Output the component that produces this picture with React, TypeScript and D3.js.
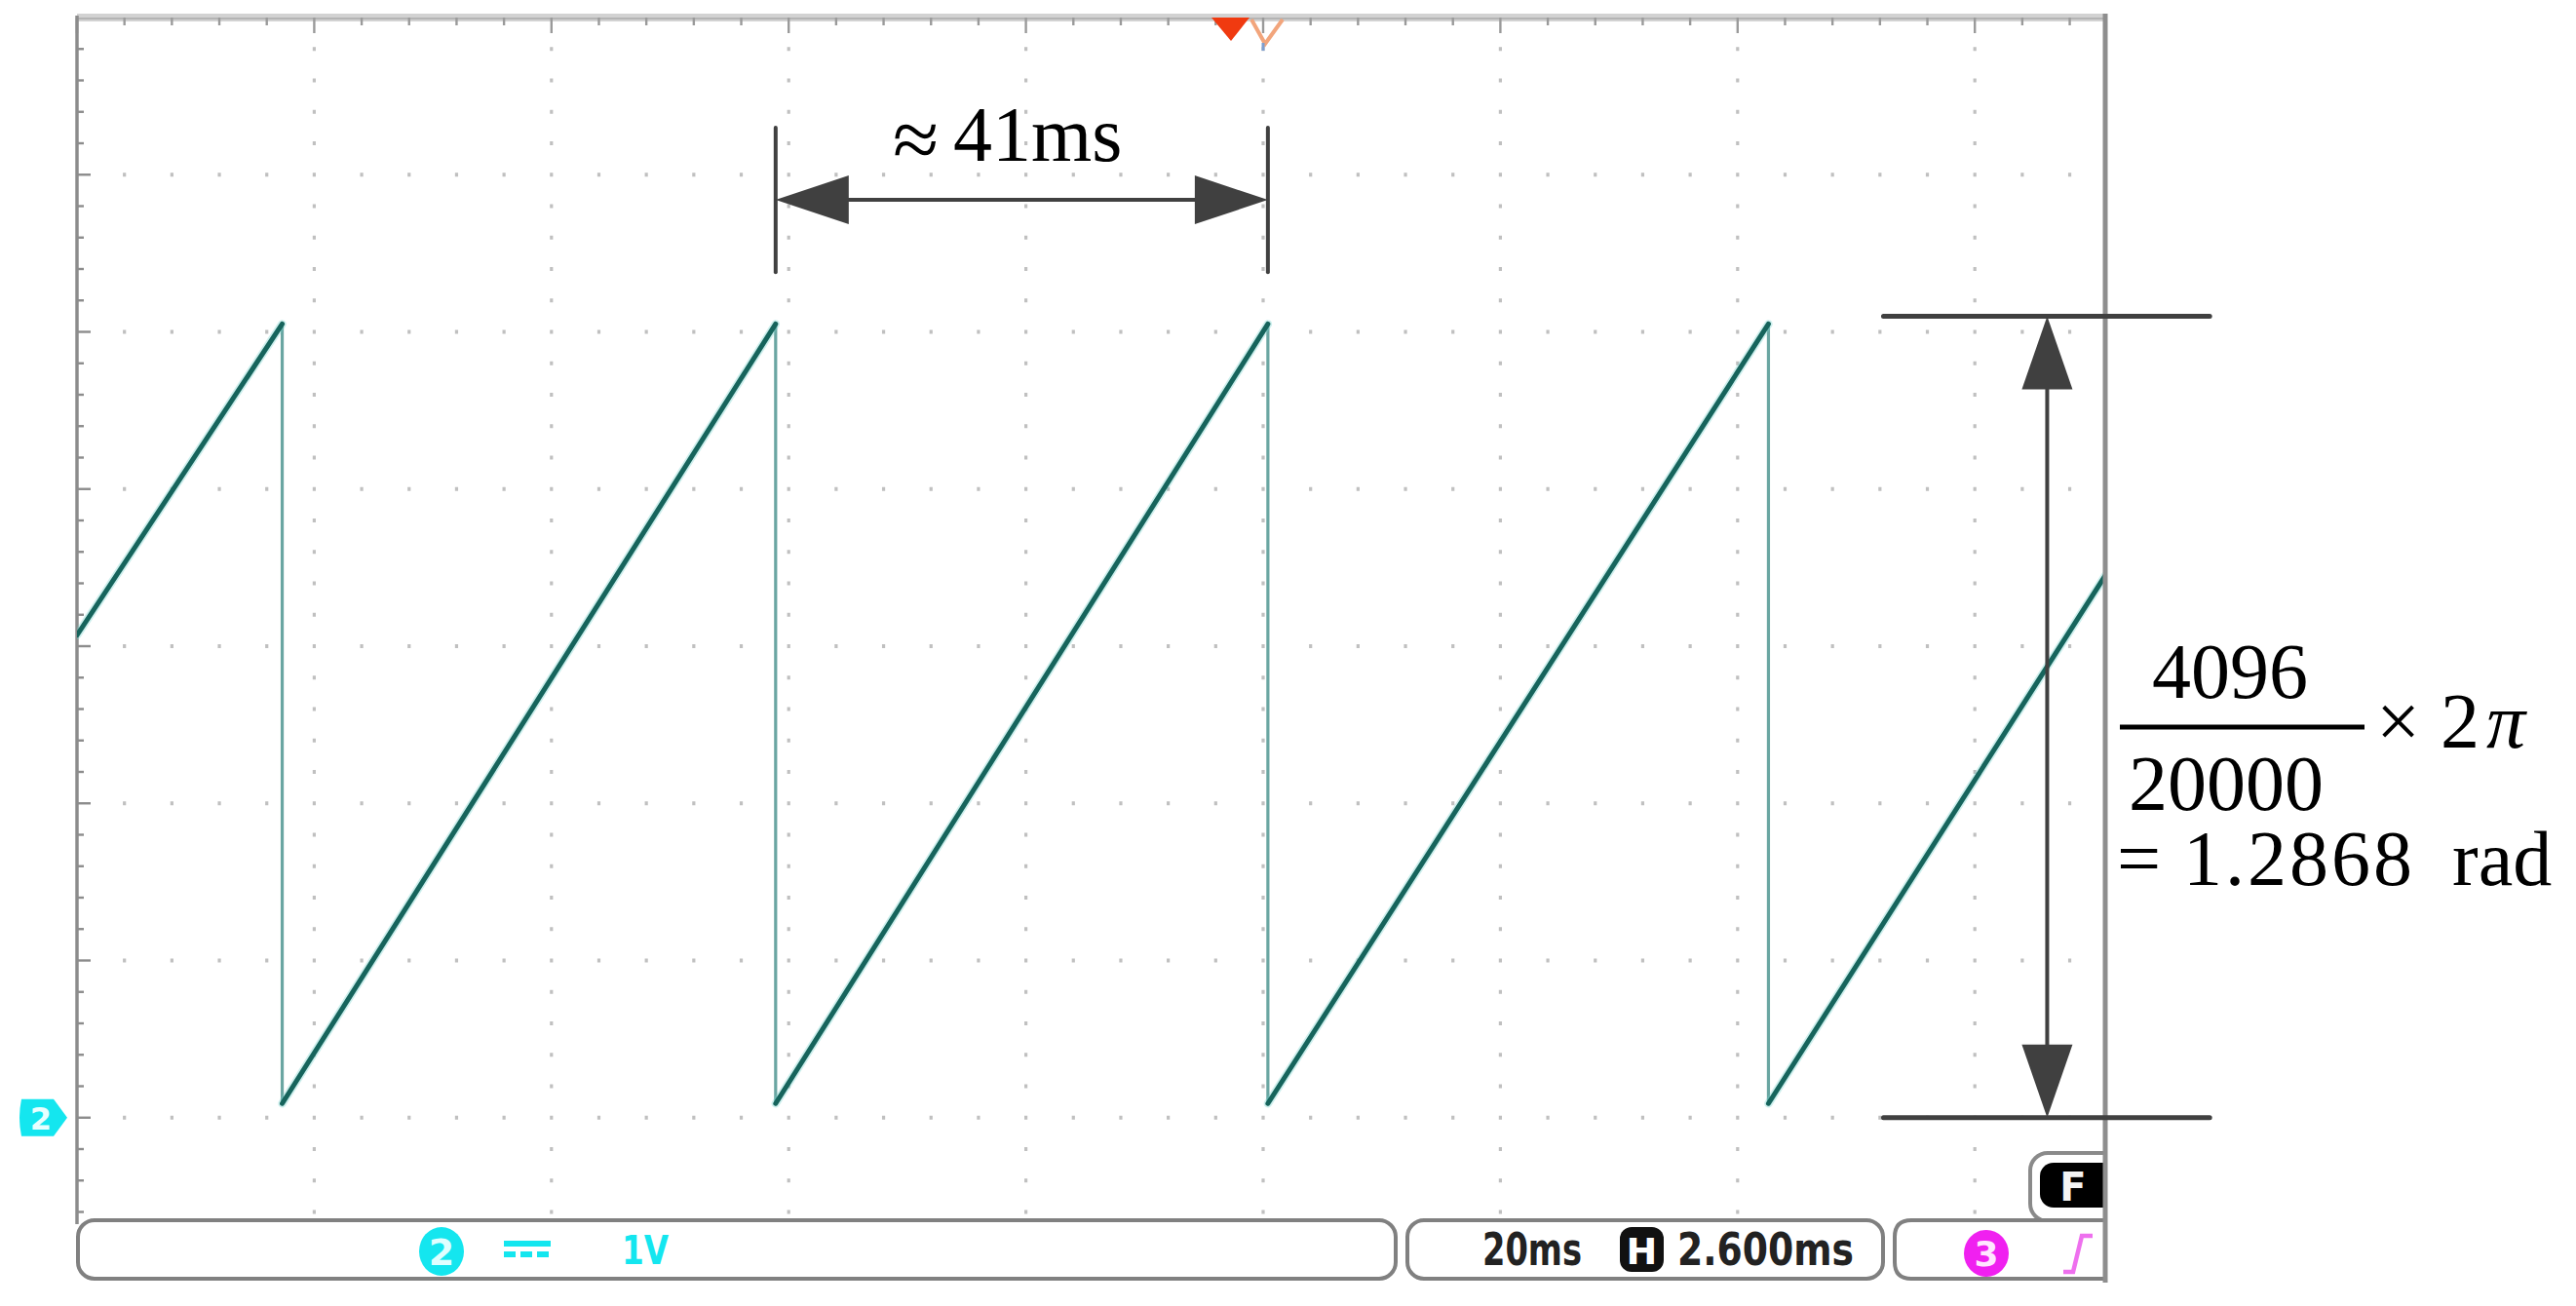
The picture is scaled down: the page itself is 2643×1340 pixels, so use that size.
import React from 'react';
import * as d3 from 'd3';

const W = 2643;
const H = 1340;

// ---- data ----
// sawtooth trace vertices: time (ms from left screen edge) and voltage (V)
const traceTimes = [0, 17.3, 17.3, 58.9, 58.9, 100.4, 100.4, 142.6, 142.6, 171.0];
const traceVolts = [3.07, 5.05, 0.09, 5.05, 0.09, 5.05, 0.09, 5.05, 0.09, 3.45];

// scope settings
const timePerDiv = 20; // ms / div
const voltsPerDiv = 1; // V / div
const hDivs = 10;
const vDivsAbove = 7;
const vDivsBelow = 1;
const minorPerDiv = 5;

// annotations
const periodMarks = [58.9, 100.4]; // ms
const periodText = '41ms';
const amplitudeMarks = [5.1, 0]; // V
const amplitudeArrowTime = 166.1; // ms
const amplitudeBarSpan = [152.3, 179.8]; // ms
const fracNum = '4096';
const fracDen = '20000';
const resultText = '1.2868';
const resultUnit = 'rad';

// status bar labels
const chLabel = '2';
const chScale = '1V';
const timebaseLabel = '20ms';
const delayLabel = '2.600ms';
const trigChLabel = '3';

// ---- layout ----
const screenL = 79;
const screenT = 18;
const divW = 243.4;
const divH = 161.25;
const screenR = 2160;
const statusTop = 1252;
const statusBot = 1312;

const xScale = d3
  .scaleLinear()
  .domain([0, hDivs * timePerDiv])
  .range([screenL, screenL + hDivs * divW]);
const yScale = d3
  .scaleLinear()
  .domain([-vDivsBelow * voltsPerDiv, vDivsAbove * voltsPerDiv])
  .range([screenT + (vDivsAbove + vDivsBelow) * divH, screenT]);

const serif = "'Liberation Serif', 'Times New Roman', serif";
const mono = "'DejaVu Sans', 'Liberation Sans', sans-serif";
const ink = '#404040';
const cyan = '#14e6ef';
const magenta = '#f020f0';

export default function App() {
  const minorT = d3.range(0, hDivs * timePerDiv + 1e-6, timePerDiv / minorPerDiv).filter((t) => xScale(t) <= screenR - 3);
  const majorT = d3.range(0, hDivs * timePerDiv + 1e-6, timePerDiv).filter((t) => xScale(t) <= screenR - 3);
  const minorV = d3.range(-vDivsBelow, vDivsAbove + 1e-6, voltsPerDiv / minorPerDiv);
  const majorV = d3.range(-vDivsBelow, vDivsAbove + 1e-6, voltsPerDiv);
  const isMajor = (v: number, step: number) => Math.abs(v / step - Math.round(v / step)) < 1e-6;

  // grid dots
  const dots: { x: number; y: number }[] = [];
  majorV.forEach((v) => {
    const y = yScale(v);
    if (y <= screenT + 5 || y >= statusTop - 4) return;
    minorT.forEach((t) => {
      if (t === 0) return;
      dots.push({ x: xScale(t), y });
    });
  });
  majorT.forEach((t) => {
    if (t === 0) return;
    const x = xScale(t);
    minorV.forEach((v) => {
      const y = yScale(v);
      if (y <= screenT + 12 || y >= statusTop - 4) return;
      if (isMajor(v, voltsPerDiv)) return;
      dots.push({ x, y });
    });
  });

  // trace segments
  const pts = traceTimes.map((t, i) => [t, traceVolts[i]] as [number, number]);
  const line = d3
    .line<[number, number]>()
    .x((d) => xScale(d[0]))
    .y((d) => yScale(d[1]));
  const rising: [number, number][][] = [];
  const falling: [number, number][][] = [];
  for (let i = 0; i < pts.length - 1; i++) {
    const seg = [pts[i], pts[i + 1]];
    if (pts[i + 1][1] >= pts[i][1]) rising.push(seg);
    else falling.push(seg);
  }

  // period annotation geometry
  const pL = xScale(periodMarks[0]);
  const pR = xScale(periodMarks[1]);
  const pBarTop = yScale(6.3);
  const pBarBot = yScale(5.38);
  const pArrowY = yScale(5.84);
  const headL = 75;
  const headW = 25;

  // amplitude annotation geometry
  const aX = xScale(amplitudeArrowTime);
  const aTop = yScale(amplitudeMarks[0]);
  const aBot = yScale(amplitudeMarks[1]);
  const aBarL = xScale(amplitudeBarSpan[0]);
  const aBarR = xScale(amplitudeBarSpan[1]);

  const trigX = xScale((hDivs * timePerDiv) / 2);

  return (
    <div style={{ position: 'absolute', left: 0, top: 0, width: W, height: H, background: '#fff' }}>
      <svg width={W} height={H} viewBox={`0 0 ${W} ${H}`} style={{ display: 'block' }}>
        <defs>
          <clipPath id="screen">
            <rect x={screenL} y={screenT - 4} width={screenR - screenL} height={statusBot - screenT + 10} />
          </clipPath>
          <clipPath id="leftOfBorder">
            <rect x={0} y={0} width={screenR} height={H} />
          </clipPath>
        </defs>
        <rect x={0} y={0} width={W} height={H} fill="#fff" />

        {/* grid dots */}
        <g fill="#c0c0c0">
          {dots.map((d, i) => (
            <rect key={i} x={d.x - 1.6} y={d.y - 2} width={3.2} height={4} />
          ))}
        </g>

        {/* top border with ticks */}
        <rect x={screenL} y={screenT - 4} width={screenR - screenL} height={8} fill="#d2d2d2" />
        <line x1={screenL} x2={screenR} y1={screenT + 1} y2={screenT + 1} stroke="#b4b4b4" strokeWidth={2} />
        <g stroke="#9a9a9a" strokeWidth={2.4}>
          {minorT.map((t, i) => (
            <line
              key={i}
              x1={xScale(t)}
              x2={xScale(t)}
              y1={screenT}
              y2={screenT + (isMajor(t, timePerDiv) ? 16 : 8)}
            />
          ))}
        </g>

        {/* left border with ticks */}
        <line x1={screenL} x2={screenL} y1={screenT - 2} y2={statusTop + 4} stroke="#8c8c8c" strokeWidth={3.5} />
        <g stroke="#8c8c8c" strokeWidth={2.4}>
          {minorV
            .filter((v) => yScale(v) > screenT + 6 && yScale(v) < statusTop - 4)
            .map((v, i) => (
              <line
                key={i}
                x1={screenL}
                x2={screenL + (isMajor(v, voltsPerDiv) ? 14 : 7)}
                y1={yScale(v)}
                y2={yScale(v)}
              />
            ))}
        </g>

        {/* trace */}
        <g clipPath="url(#screen)" fill="none" strokeLinecap="round">
          {falling.map((s, i) => (
            <path key={'f' + i} d={line(s) || ''} stroke="#6aa6a2" strokeWidth={3.2} />
          ))}
          {rising.map((s, i) => (
            <path key={'h' + i} d={line(s) || ''} stroke="#6fd2ca" strokeWidth={8.5} strokeOpacity={0.35} />
          ))}
          {rising.map((s, i) => (
            <path key={'r' + i} d={line(s) || ''} stroke="#16645c" strokeWidth={5} />
          ))}
        </g>

        {/* trigger position marker */}
        <polygon points={`${trigX - 53},${screenT} ${trigX - 14},${screenT} ${trigX - 33},${screenT + 24}`} fill="#f03a10" />
        <polyline
          points={`${trigX - 12},${screenT + 2} ${trigX + 2},${screenT + 27} ${trigX + 20},${screenT + 2}`}
          fill="none"
          stroke="#f2a57c"
          strokeWidth={4}
        />
        <line x1={trigX} x2={trigX} y1={screenT + 26} y2={screenT + 34} stroke="#7f9fcf" strokeWidth={3} />

        {/* channel 2 ground marker */}
        <path
          d={`M ${screenL - 57} ${yScale(0) - 19} H ${screenL - 24} L ${screenL - 10} ${yScale(0)} L ${screenL - 24} ${yScale(0) + 19} H ${screenL - 57} Q ${screenL - 61} ${yScale(0)} ${screenL - 57} ${yScale(0) - 19} Z`}
          fill={cyan}
        />
        <text
          x={screenL - 37}
          y={yScale(0) + 12}
          textAnchor="middle"
          fontFamily={mono}
          fontWeight="bold"
          fontSize={32}
          fill="#e8ffff"
        >
          {chLabel}
        </text>

        {/* F badge (cut by right border) */}
        <g clipPath="url(#leftOfBorder)">
          <rect x={2083} y={1183} width={100} height={70} rx={18} fill="#fff" stroke="#8a8a8a" strokeWidth={4} />
          <rect x={2093} y={1193} width={90} height={46} rx={14} fill="#000" />
          <text x={2127} y={1232} textAnchor="middle" fontFamily={mono} fontWeight="bold" fontSize={40} fill="#f4f4f4">
            F
          </text>
        </g>

        {/* status bar */}
        <g fill="#fff" stroke="#808080" strokeWidth={4}>
          <rect x={screenL + 1} y={statusTop} width={1432 - screenL - 1} height={statusBot - statusTop} rx={17} />
          <rect x={1444} y={statusTop} width={488} height={statusBot - statusTop} rx={17} />
          <path
            d={`M ${screenR} ${statusTop} H ${1944 + 17} Q 1944 ${statusTop} 1944 ${statusTop + 17} V ${statusBot - 17} Q 1944 ${statusBot} ${1944 + 17} ${statusBot} H ${screenR}`}
          />
        </g>

        {/* right border */}
        <line x1={screenR} x2={screenR} y1={screenT - 4} y2={statusBot + 4} stroke="#8e8e8e" strokeWidth={5} />

        {/* ch2 label */}
        <ellipse cx={453} cy={1284} rx={23} ry={25} fill={cyan} />
        <text x={453} y={1298} textAnchor="middle" fontFamily={mono} fontWeight="bold" fontSize={38} fill="#e0ffff">
          {chLabel}
        </text>
        <rect x={517} y={1273} width={48} height={6} fill={cyan} />
        <g fill={cyan}>
          {[0, 1, 2].map((k) => (
            <rect key={k} x={517 + k * 17} y={1284} width={12} height={6} />
          ))}
        </g>
        <text x={638} y={1297} fontFamily={mono} fontWeight="bold" fontSize={40} fill={cyan} textLength={48} lengthAdjust="spacingAndGlyphs">
          {chScale}
        </text>

        {/* timebase */}
        <text x={1521} y={1298} fontFamily={mono} fontWeight="bold" fontSize={46} fill="#222" textLength={102} lengthAdjust="spacingAndGlyphs">
          {timebaseLabel}
        </text>
        <rect x={1662} y={1259} width={45} height={46} rx={12} fill="#111" />
        <text x={1684.5} y={1297} textAnchor="middle" fontFamily={mono} fontWeight="bold" fontSize={38} fill="#fff">
          H
        </text>
        <text x={1721} y={1298} fontFamily={mono} fontWeight="bold" fontSize={46} fill="#222" textLength={181} lengthAdjust="spacingAndGlyphs">
          {delayLabel}
        </text>

        {/* trigger channel */}
        <ellipse cx={2038} cy={1286} rx={23} ry={24} fill={magenta} />
        <text x={2038} y={1299} textAnchor="middle" fontFamily={mono} fontWeight="bold" fontSize={36} fill="#ffe6ff">
          {trigChLabel}
        </text>
        <path d="M 2117 1305 H 2127 L 2136 1268 H 2147" fill="none" stroke="#ee70ee" strokeWidth={4.5} />

        {/* period annotation */}
        <g stroke={ink} strokeWidth={4} strokeLinecap="round">
          <line x1={pL} x2={pL} y1={pBarTop} y2={pBarBot} />
          <line x1={pR} x2={pR} y1={pBarTop} y2={pBarBot} />
          <line x1={pL + headL - 2} x2={pR - headL + 2} y1={pArrowY} y2={pArrowY} strokeLinecap="butt" />
        </g>
        <g fill={ink}>
          <polygon points={`${pL},${pArrowY} ${pL + headL},${pArrowY - headW} ${pL + headL},${pArrowY + headW}`} />
          <polygon points={`${pR},${pArrowY} ${pR - headL},${pArrowY - headW} ${pR - headL},${pArrowY + headW}`} />
        </g>
        <text x={916} y={172} fontFamily={serif} fontSize={86} fill="#000">
          ≈
        </text>
        <text x={978} y={165} fontFamily={serif} fontSize={80} fill="#000">
          {periodText}
        </text>

        {/* amplitude annotation */}
        <g stroke={ink} strokeWidth={5} strokeLinecap="round">
          <line x1={aBarL} x2={aBarR} y1={aTop} y2={aTop} />
          <line x1={aBarL} x2={aBarR} y1={aBot} y2={aBot} />
          <line x1={aX} x2={aX} y1={aTop + headL - 2} y2={aBot - headL + 2} strokeWidth={4} strokeLinecap="butt" />
        </g>
        <g fill={ink}>
          <polygon points={`${aX},${aTop} ${aX - 26},${aTop + headL} ${aX + 26},${aTop + headL}`} />
          <polygon points={`${aX},${aBot} ${aX - 26},${aBot - headL} ${aX + 26},${aBot - headL}`} />
        </g>

        {/* formula */}
        <text x={2288} y={716} textAnchor="middle" fontFamily={serif} fontSize={80} fill="#000">
          {fracNum}
        </text>
        <line x1={2175} x2={2426} y1={746} y2={746} stroke="#000" strokeWidth={5} />
        <text x={2284} y={831} textAnchor="middle" fontFamily={serif} fontSize={80} fill="#000">
          {fracDen}
        </text>
        <text x={2438} y={767} fontFamily={serif} fontSize={80} fill="#000">
          ×
        </text>
        <text x={2504} y={767} fontFamily={serif} fontSize={80} fill="#000">
          2
        </text>
        <text x={2551} y={767} fontFamily={serif} fontStyle="italic" fontSize={80} fill="#000">
          π
        </text>
        <text x={2172} y={908} fontFamily={serif} fontSize={80} fill="#000">
          =
        </text>
        <text x={2240} y={908} fontFamily={serif} fontSize={80} fill="#000" letterSpacing={3}>
          {resultText}
        </text>
        <text x={2516} y={908} fontFamily={serif} fontSize={80} fill="#000">
          {resultUnit}
        </text>
      </svg>
    </div>
  );
}
